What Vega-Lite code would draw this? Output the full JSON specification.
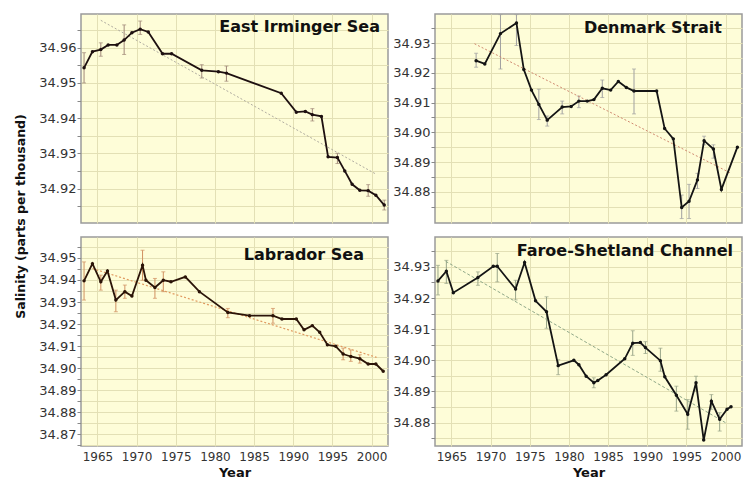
{
  "$schema": "https://vega.github.io/schema/vega-lite/v6.json",
  "padding": {"left": 13, "top": 13, "right": 2, "bottom": 0},
  "background": "white",
  "config": {
    "view": {"fill": "#fefdd8", "stroke": "#9b9b9b", "strokeWidth": 1.5},
    "axis": {"gridColor": "#e3e0b5", "gridWidth": 1, "labelFont": "DejaVu Sans", "labelColor": "#333", "titleFont": "DejaVu Sans", "titleFontWeight": "bold", "titleColor": "#111", "tickColor": "#888", "labelOverlap": false},
    "axisX": {"labelFontSize": 12, "titleFontSize": 13},
    "axisY": {"labelFontSize": 13, "titleFontSize": 12.5},
    "title": {"font": "DejaVu Sans", "fontSize": 16, "fontWeight": "bold", "color": "#111", "anchor": "end", "frame": "group", "baseline": "alphabetic"}
  },
  "datasets": {
    "ei": [
      {"year": 1963.29, "s": 34.9543, "lo": 34.9500, "hi": 34.9586},
      {"year": 1964.36, "s": 34.9589},
      {"year": 1965.43, "s": 34.9595, "lo": 34.9576, "hi": 34.9614},
      {"year": 1966.37, "s": 34.9608},
      {"year": 1967.48, "s": 34.9608},
      {"year": 1968.41, "s": 34.9622, "lo": 34.9581, "hi": 34.9665},
      {"year": 1969.40, "s": 34.9643},
      {"year": 1970.46, "s": 34.9653, "lo": 34.9638, "hi": 34.9676},
      {"year": 1971.49, "s": 34.9645},
      {"year": 1973.32, "s": 34.9583},
      {"year": 1974.47, "s": 34.9583},
      {"year": 1978.32, "s": 34.9536, "lo": 34.9514, "hi": 34.9552},
      {"year": 1980.45, "s": 34.9532},
      {"year": 1981.47, "s": 34.9528, "lo": 34.9505, "hi": 34.9548},
      {"year": 1988.47, "s": 34.9471},
      {"year": 1990.39, "s": 34.9417},
      {"year": 1991.55, "s": 34.9419},
      {"year": 1992.44, "s": 34.9410, "lo": 34.9392, "hi": 34.9427},
      {"year": 1993.60, "s": 34.9405},
      {"year": 1994.45, "s": 34.9290},
      {"year": 1995.64, "s": 34.9288, "lo": 34.9271, "hi": 34.9300},
      {"year": 1996.58, "s": 34.9250},
      {"year": 1997.52, "s": 34.9212},
      {"year": 1998.50, "s": 34.9195},
      {"year": 1999.57, "s": 34.9194, "lo": 34.9178, "hi": 34.9211},
      {"year": 2000.55, "s": 34.9181},
      {"year": 2001.62, "s": 34.9153, "lo": 34.9139, "hi": 34.9167}
    ],
    "ei_t": [{"year": 1965.43, "s": 34.9678}, {"year": 2000.64, "s": 34.9240}],
    "ds": [
      {"year": 1968.15, "s": 34.9241, "lo": 34.9219, "hi": 34.9266},
      {"year": 1969.26, "s": 34.9230},
      {"year": 1971.26, "s": 34.9332, "lo": 34.9213, "hi": 34.9396},
      {"year": 1973.30, "s": 34.9368, "lo": 34.9292, "hi": 34.9396},
      {"year": 1974.24, "s": 34.9211},
      {"year": 1975.22, "s": 34.9142},
      {"year": 1976.16, "s": 34.9094, "lo": 34.9043, "hi": 34.9145},
      {"year": 1977.23, "s": 34.9041, "lo": 34.9021, "hi": 34.9055},
      {"year": 1979.14, "s": 34.9085, "lo": 34.9062, "hi": 34.9105},
      {"year": 1980.29, "s": 34.9087},
      {"year": 1981.27, "s": 34.9105, "lo": 34.9083, "hi": 34.9122},
      {"year": 1982.34, "s": 34.9105},
      {"year": 1983.19, "s": 34.9110},
      {"year": 1984.26, "s": 34.9148, "lo": 34.9117, "hi": 34.9176},
      {"year": 1985.33, "s": 34.9142},
      {"year": 1986.31, "s": 34.9171},
      {"year": 1987.33, "s": 34.9151},
      {"year": 1988.31, "s": 34.9139, "lo": 34.9062, "hi": 34.9213},
      {"year": 1991.20, "s": 34.9139},
      {"year": 1992.22, "s": 34.9013},
      {"year": 1993.33, "s": 34.8978},
      {"year": 1994.40, "s": 34.8747, "lo": 34.8710, "hi": 34.8789},
      {"year": 1995.34, "s": 34.8768, "lo": 34.8710, "hi": 34.8825},
      {"year": 1996.41, "s": 34.8840, "lo": 34.8811, "hi": 34.8862},
      {"year": 1997.26, "s": 34.8972, "lo": 34.8958, "hi": 34.8987},
      {"year": 1998.45, "s": 34.8944, "lo": 34.8913, "hi": 34.8958},
      {"year": 1999.47, "s": 34.8808},
      {"year": 2001.51, "s": 34.8950}
    ],
    "ds_t": [{"year": 1967.94, "s": 34.9298}, {"year": 2000.72, "s": 34.8862}],
    "lab": [
      {"year": 1963.29, "s": 34.9396, "lo": 34.9309, "hi": 34.9482},
      {"year": 1964.36, "s": 34.9474},
      {"year": 1965.43, "s": 34.9392, "lo": 34.9354, "hi": 34.9422},
      {"year": 1966.28, "s": 34.9441},
      {"year": 1967.35, "s": 34.9309, "lo": 34.9256, "hi": 34.9354},
      {"year": 1968.50, "s": 34.9347, "lo": 34.9317, "hi": 34.9377},
      {"year": 1969.40, "s": 34.9327},
      {"year": 1970.76, "s": 34.9467, "lo": 34.9399, "hi": 34.9535},
      {"year": 1971.19, "s": 34.9399},
      {"year": 1972.34, "s": 34.9366, "lo": 34.9317, "hi": 34.9407},
      {"year": 1973.41, "s": 34.9399, "lo": 34.9347, "hi": 34.9437},
      {"year": 1974.39, "s": 34.9392},
      {"year": 1976.22, "s": 34.9414},
      {"year": 1978.02, "s": 34.9347},
      {"year": 1981.65, "s": 34.9253, "lo": 34.9229, "hi": 34.9271},
      {"year": 1984.42, "s": 34.9238},
      {"year": 1987.41, "s": 34.9238, "lo": 34.9204, "hi": 34.9271},
      {"year": 1988.56, "s": 34.9223},
      {"year": 1990.39, "s": 34.9223},
      {"year": 1991.38, "s": 34.9174},
      {"year": 1992.44, "s": 34.9193},
      {"year": 1993.38, "s": 34.9163},
      {"year": 1994.36, "s": 34.9106},
      {"year": 1995.43, "s": 34.9099},
      {"year": 1996.37, "s": 34.9064, "lo": 34.9038, "hi": 34.9091},
      {"year": 1997.35, "s": 34.9053, "lo": 34.9031, "hi": 34.9083},
      {"year": 1998.50, "s": 34.9043, "lo": 34.9023, "hi": 34.9061},
      {"year": 1999.57, "s": 34.9019},
      {"year": 2000.55, "s": 34.9019},
      {"year": 2001.49, "s": 34.8986}
    ],
    "lab_t": [{"year": 1964.36, "s": 34.9452}, {"year": 2000.64, "s": 34.9049}],
    "fs": [
      {"year": 1963.28, "s": 34.9255, "lo": 34.9210, "hi": 34.9305},
      {"year": 1964.35, "s": 34.9286, "lo": 34.9247, "hi": 34.9321},
      {"year": 1965.24, "s": 34.9217},
      {"year": 1968.38, "s": 34.9266, "lo": 34.9241, "hi": 34.9284},
      {"year": 1970.34, "s": 34.9302},
      {"year": 1970.85, "s": 34.9302, "lo": 34.9252, "hi": 34.9343},
      {"year": 1973.19, "s": 34.9229, "lo": 34.9194, "hi": 34.9257},
      {"year": 1974.34, "s": 34.9314},
      {"year": 1975.74, "s": 34.9191},
      {"year": 1977.14, "s": 34.9156, "lo": 34.9103, "hi": 34.9204},
      {"year": 1978.63, "s": 34.8983, "lo": 34.8954, "hi": 34.9002},
      {"year": 1980.63, "s": 34.9000},
      {"year": 1981.27, "s": 34.8986},
      {"year": 1982.20, "s": 34.8949},
      {"year": 1983.18, "s": 34.8928, "lo": 34.8912, "hi": 34.8944},
      {"year": 1983.69, "s": 34.8935},
      {"year": 1984.75, "s": 34.8954},
      {"year": 1987.13, "s": 34.9005},
      {"year": 1988.15, "s": 34.9055, "lo": 34.9016, "hi": 34.9095},
      {"year": 1989.13, "s": 34.9057},
      {"year": 1989.77, "s": 34.9041, "lo": 34.9022, "hi": 34.9060},
      {"year": 1991.68, "s": 34.8999, "lo": 34.8965, "hi": 34.9039},
      {"year": 1992.24, "s": 34.8947},
      {"year": 1993.72, "s": 34.8888, "lo": 34.8837, "hi": 34.8917},
      {"year": 1995.17, "s": 34.8827, "lo": 34.8779, "hi": 34.8874},
      {"year": 1996.23, "s": 34.8928, "lo": 34.8901, "hi": 34.8949},
      {"year": 1997.21, "s": 34.8744},
      {"year": 1998.19, "s": 34.8869, "lo": 34.8843, "hi": 34.8890},
      {"year": 1999.25, "s": 34.8811, "lo": 34.8773, "hi": 34.8832},
      {"year": 2000.19, "s": 34.8843},
      {"year": 2000.70, "s": 34.8851}
    ],
    "fs_t": [{"year": 1964.26, "s": 34.9318}, {"year": 2000.19, "s": 34.8797}]
  },
  "columns": 2,
  "spacing": {"row": 14, "column": 47},
  "bounds": "flush",
  "concat": [
    {
      "width": 307, "height": 209,
      "title": {"text": "East Irminger Sea", "offset": -21, "dx": -8},
      "layer": [
        {"data": {"name": "ei"}, "transform": [{"filter": "datum.lo != null"}],
         "mark": {"type": "errorbar", "color": "#a08878", "ticks": {"size": 4}},
         "encoding": {
           "x": {"field": "year", "type": "quantitative", "scale": {"domain": [1962.9, 2002.1], "nice": false, "zero": false}},
           "y": {"field": "lo", "type": "quantitative", "title": "Salinity (parts per thousand)", "scale": {"domain": [34.9102, 34.9696], "nice": false, "zero": false}},
           "y2": {"field": "hi"}
         }},
        {"data": {"name": "ei_t"},
         "mark": {"type": "line", "color": "#b0aca0", "strokeWidth": 1, "strokeDash": [2, 2]},
         "encoding": {
           "x": {"field": "year", "type": "quantitative"},
           "y": {"field": "s", "type": "quantitative", "title": "Salinity (parts per thousand)"}
         }},
        {"data": {"name": "ei"},
         "mark": {"type": "line", "color": "#1e1010", "strokeWidth": 1.8, "point": {"filled": true, "size": 12, "color": "#1e1010"}},
         "encoding": {
           "x": {"field": "year", "type": "quantitative", "axis": {"values": [1965,1970,1975,1980,1985,1990,1995,2000], "tickCount": 40, "labels": false, "ticks": false, "domain": false, "title": null, "grid": true}},
           "y": {"field": "s", "type": "quantitative", "title": "Salinity (parts per thousand)", "axis": {"values": [34.915,34.92,34.925,34.93,34.935,34.94,34.945,34.95,34.955,34.96,34.965], "tickCount": 60, "labelExpr": "(round(datum.value*200) % 2) == 0 ? format(datum.value, '.2f') : ''", "labelOverlap": false, "domain": false, "tickSize": 4, "labelPadding": 1, "titleX": -61, "titleY": 202, "titleAngle": -90, "titleAlign": "center", "titleBaseline": "middle"}}
         }}
      ]
    },
    {
      "width": 307, "height": 209,
      "title": {"text": "Denmark Strait", "offset": -22, "dx": -20},
      "layer": [
        {"data": {"name": "ds"}, "transform": [{"filter": "datum.lo != null"}],
         "mark": {"type": "errorbar", "color": "#a0a0a0", "ticks": {"size": 4}},
         "encoding": {
           "x": {"field": "year", "type": "quantitative", "scale": {"domain": [1962.9, 2002.1], "nice": false, "zero": false}},
           "y": {"field": "lo", "type": "quantitative", "title": null, "scale": {"domain": [34.8695, 34.9398], "nice": false, "zero": false}},
           "y2": {"field": "hi"}
         }},
        {"data": {"name": "ds_t"},
         "mark": {"type": "line", "color": "#d08a70", "strokeWidth": 1, "strokeDash": [2, 2]},
         "encoding": {
           "x": {"field": "year", "type": "quantitative"},
           "y": {"field": "s", "type": "quantitative", "title": null}
         }},
        {"data": {"name": "ds"},
         "mark": {"type": "line", "color": "#141414", "strokeWidth": 1.8, "point": {"filled": true, "size": 12, "color": "#141414"}},
         "encoding": {
           "x": {"field": "year", "type": "quantitative", "axis": {"values": [1965,1970,1975,1980,1985,1990,1995,2000], "tickCount": 40, "labels": false, "ticks": false, "domain": false, "title": null, "grid": true}},
           "y": {"field": "s", "type": "quantitative", "title": null, "axis": {"values": [34.875,34.88,34.885,34.89,34.895,34.9,34.905,34.91,34.915,34.92,34.925,34.93,34.935], "tickCount": 60, "labelExpr": "(round(datum.value*200) % 2) == 0 ? format(datum.value, '.2f') : ''", "labelOverlap": false, "domain": false, "tickSize": 4, "labelPadding": 1}}
         }}
      ]
    },
    {
      "width": 307, "height": 209,
      "title": {"text": "Labrador Sea", "offset": -26, "dx": -24},
      "layer": [
        {"data": {"name": "lab"}, "transform": [{"filter": "datum.lo != null"}],
         "mark": {"type": "errorbar", "color": "#d09060", "ticks": {"size": 4}},
         "encoding": {
           "x": {"field": "year", "type": "quantitative", "title": "Year", "scale": {"domain": [1962.9, 2002.1], "nice": false, "zero": false}},
           "y": {"field": "lo", "type": "quantitative", "title": null, "scale": {"domain": [34.8647, 34.9595], "nice": false, "zero": false}},
           "y2": {"field": "hi"}
         }},
        {"data": {"name": "lab_t"},
         "mark": {"type": "line", "color": "#e09a60", "strokeWidth": 1.2, "strokeDash": [2, 2]},
         "encoding": {
           "x": {"field": "year", "type": "quantitative", "title": "Year"},
           "y": {"field": "s", "type": "quantitative", "title": null}
         }},
        {"data": {"name": "lab"},
         "mark": {"type": "line", "color": "#2b1408", "strokeWidth": 1.8, "point": {"filled": true, "size": 12, "color": "#2b1408"}},
         "encoding": {
           "x": {"field": "year", "type": "quantitative", "title": "Year", "axis": {"values": [1965,1970,1975,1980,1985,1990,1995,2000], "tickCount": 40, "format": "d", "ticks": false, "domain": false, "grid": true, "labelPadding": 5, "titlePadding": 4}},
           "y": {"field": "s", "type": "quantitative", "title": null, "axis": {"values": [34.865,34.87,34.875,34.88,34.885,34.89,34.895,34.9,34.905,34.91,34.915,34.92,34.925,34.93,34.935,34.94,34.945,34.95,34.955], "tickCount": 60, "labelExpr": "(round(datum.value*200) % 2) == 0 ? format(datum.value, '.2f') : ''", "labelOverlap": false, "domain": false, "tickSize": 4, "labelPadding": 1}}
         }}
      ]
    },
    {
      "width": 307, "height": 209,
      "title": {"text": "Faroe-Shetland Channel", "offset": -22, "dx": -9},
      "layer": [
        {"data": {"name": "fs"}, "transform": [{"filter": "datum.lo != null"}],
         "mark": {"type": "errorbar", "color": "#98a488", "ticks": {"size": 4}},
         "encoding": {
           "x": {"field": "year", "type": "quantitative", "title": "Year", "scale": {"domain": [1962.9, 2002.1], "nice": false, "zero": false}},
           "y": {"field": "lo", "type": "quantitative", "title": null, "scale": {"domain": [34.8725, 34.9396], "nice": false, "zero": false}},
           "y2": {"field": "hi"}
         }},
        {"data": {"name": "fs_t"},
         "mark": {"type": "line", "color": "#90a888", "strokeWidth": 1, "strokeDash": [3, 2]},
         "encoding": {
           "x": {"field": "year", "type": "quantitative", "title": "Year"},
           "y": {"field": "s", "type": "quantitative", "title": null}
         }},
        {"data": {"name": "fs"},
         "mark": {"type": "line", "color": "#141414", "strokeWidth": 1.8, "point": {"filled": true, "size": 12, "color": "#141414"}},
         "encoding": {
           "x": {"field": "year", "type": "quantitative", "title": "Year", "axis": {"values": [1965,1970,1975,1980,1985,1990,1995,2000], "tickCount": 40, "format": "d", "ticks": false, "domain": false, "grid": true, "labelPadding": 5, "titlePadding": 4}},
           "y": {"field": "s", "type": "quantitative", "title": null, "axis": {"values": [34.875,34.88,34.885,34.89,34.895,34.9,34.905,34.91,34.915,34.92,34.925,34.93,34.935], "tickCount": 60, "labelExpr": "(round(datum.value*200) % 2) == 0 ? format(datum.value, '.2f') : ''", "labelOverlap": false, "domain": false, "tickSize": 4, "labelPadding": 1}}
         }}
      ]
    }
  ]
}
